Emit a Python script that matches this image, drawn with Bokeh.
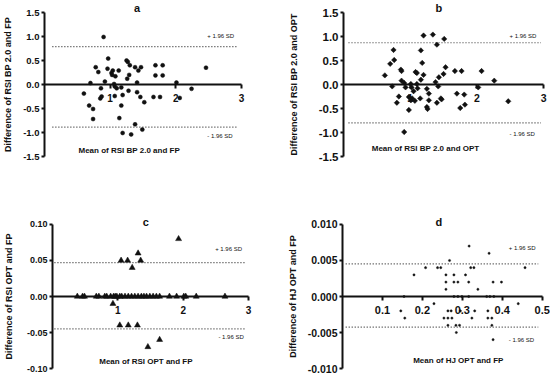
import math
from bokeh.plotting import figure
from bokeh.layouts import row, column
from bokeh.models import FixedTicker, Label, Range1d, PrintfTickFormatter
from bokeh.embed import file_html
from bokeh.resources import INLINE

# ---------------- data ----------------
a_mean = [0.90, 0.97, 0.78, 0.82, 0.96, 1.02, 1.04, 1.03, 1.13, 1.08, 1.25, 1.27, 1.30, 1.38,
          1.47, 1.43, 1.29, 1.26, 1.69, 1.80, 1.69, 1.80, 2.46, 0.70, 0.92, 0.86, 1.06, 1.07,
          1.10, 1.17, 1.41, 0.60, 0.85, 0.87, 1.07, 1.19, 1.28, 1.41, 1.46, 1.52, 1.66, 1.76,
          2.01, 2.06, 2.24, 0.68, 0.74, 0.74, 1.17, 1.14, 1.38, 1.49, 1.19, 1.32]
a_diff = [0.99, 0.54, 0.36, 0.26, 0.33, 0.24, 0.29, 0.20, 0.29, 0.17, 0.50, 0.47, 0.40, 0.36,
          0.36, 0.29, 0.20, 0.12, 0.40, 0.40, 0.19, 0.19, 0.35, 0.03, 0.06, -0.08, 0.01, -0.04,
          -0.08, -0.06, 0.04, -0.19, -0.29, -0.25, -0.24, -0.22, -0.13, -0.16, -0.26, -0.37, -0.26, -0.26,
          0.04, -0.28, -0.09, -0.44, -0.51, -0.72, -0.44, -0.70, -0.83, -0.94, -1.01, -1.04]
a_upper, a_lower = 0.79, -0.89

b_mean = [1.20, 1.34, 1.51, 1.40, 0.75, 1.16, 0.70, 0.76, 1.18, 0.86, 0.87, 1.08, 1.10, 0.62,
          1.20, 1.16, 0.87, 0.91, 0.73, 0.93, 1.01, 1.02, 1.10, 1.11, 1.05, 1.25, 1.28, 1.38,
          1.43, 1.42, 1.50, 1.53, 1.67, 1.77, 2.07, 2.26, 2.02, 1.70, 1.81, 1.75, 1.82, 2.47,
          0.83, 0.80, 0.98, 1.01, 1.03, 1.07, 1.15, 0.98, 1.25, 1.26, 1.28, 1.40, 1.46, 1.47, 0.91]
b_diff = [1.02, 1.04, 0.95, 0.83, 0.72, 0.71, 0.43, 0.51, 0.45, 0.31, 0.28, 0.26, 0.24, 0.19,
          0.20, 0.10, 0.08, 0.03, -0.04, -0.06, 0.01, -0.06, 0.01, -0.08, -0.14, -0.09, -0.19, 0.05,
          0.15, -0.04, 0.22, 0.36, 0.28, 0.28, 0.28, 0.08, -0.06, -0.19, -0.21, -0.49, -0.42, -0.35,
          -0.25, -0.38, -0.26, -0.33, -0.29, -0.34, -0.29, -0.53, -0.47, -0.51, -0.33, -0.38, -0.29, -0.31, -0.99]
b_upper, b_lower = 0.87, -0.80

c_mean = [0.38, 0.46, 0.49, 0.67, 0.71, 0.80, 0.83, 0.89, 0.935, 0.96, 0.985, 1.03, 1.06, 1.11,
          1.16, 1.21, 1.26, 1.31, 1.36, 1.40, 1.44, 1.49, 1.54, 1.59, 1.64, 1.79, 1.90, 2.01,
          2.04, 2.20, 2.64,
          1.93, 1.31, 1.05, 1.15, 1.35, 1.22, 0.925, 1.03, 1.16, 1.30, 1.46, 1.64]
c_diff = [0.0] * 31 + [0.08, 0.06, 0.05, 0.05, 0.05, 0.04, -0.01, -0.04, -0.04, -0.04, -0.07, -0.06]
c_upper, c_lower = 0.047, -0.045

d_mean = [0.317, 0.367, 0.268, 0.208, 0.238, 0.246, 0.321, 0.329, 0.457, 0.179, 0.259, 0.279,
          0.308, 0.259, 0.279, 0.289, 0.316, 0.377, 0.398, 0.259, 0.339, 0.154, 0.279, 0.289,
          0.299, 0.316, 0.361, 0.369, 0.379, 0.229, 0.440, 0.146, 0.264, 0.272, 0.295, 0.331,
          0.364, 0.156, 0.254, 0.264, 0.274, 0.324, 0.364, 0.374, 0.264, 0.284, 0.293, 0.374,
          0.285, 0.377]
d_diff = [0.007, 0.006, 0.005, 0.004, 0.004, 0.004, 0.004, 0.004, 0.004, 0.003, 0.003, 0.003,
          0.003, 0.002, 0.002, 0.002, 0.002, 0.002, 0.002, 0.001, 0.001, 0.0, 0.0, 0.0,
          0.0, 0.0, 0.0, 0.0, 0.0, -0.001, -0.001, -0.002, -0.002, -0.002, -0.002, -0.002,
          -0.002, -0.003, -0.003, -0.003, -0.003, -0.003, -0.003, -0.003, -0.004, -0.004, -0.004, -0.004,
          -0.005, -0.006]
d_upper, d_lower = 0.00454, -0.00426

ab_yticks = [-1.5, -1.0, -0.5, 0.0, 0.5, 1.0, 1.5]
ab_ylabels = ["-1.5", "-1.0", "-0.5", "0.0", "0.5", "1.0", "1.5"]
c_yticks = [-0.10, -0.05, 0.0, 0.05, 0.10]
c_ylabels = ["-0.10", "-0.05", "0.00", "0.05", "0.10"]
d_yticks = [-0.010, -0.005, 0.0, 0.005, 0.010]
d_ylabels = ["-0.010", "-0.005", "0.000", "0.005", "0.010"]
abc_xticks = [1, 2, 3]
d_xticks = [0.1, 0.2, 0.3, 0.4, 0.5]

FONT = "Liberation Sans"
INK = "#111111"


def panel(xs, ys, upper, lower, marker, msize, xticks, yticks, ylabels, yfmt, ytitle, xtitle,
          letter, height, b_left, b_top, b_bottom, x_end, y_half, ytick_fs, xtick_fs,
          ylab_standoff, title_pos, xlab_pos, sd_x, sd_up_y, sd_lo_y, line_span, angle=0.0):
    p = figure(width=275, height=height, x_range=Range1d(0, x_end),
               y_range=Range1d(-y_half, y_half), output_backend="svg",
               toolbar_location=None, min_border_left=b_left, min_border_right=0,
               min_border_top=b_top, min_border_bottom=b_bottom)
    p.outline_line_color = None
    p.xgrid.visible = False
    p.ygrid.visible = False
    p.background_fill_color = "white"

    ya = p.yaxis[0]
    ya.ticker = FixedTicker(ticks=yticks)
    ya.formatter = PrintfTickFormatter(format=yfmt)
    ya.major_label_overrides = dict(zip(yticks, ylabels))
    ya.bounds = (yticks[0], yticks[-1])
    ya.axis_line_width = 2
    ya.axis_line_color = INK
    ya.major_tick_line_width = 2
    ya.major_tick_line_color = INK
    ya.major_tick_in = 0
    ya.major_tick_out = 3
    ya.minor_tick_in = 0
    ya.minor_tick_out = 0
    ya.major_label_standoff = 2
    ya.major_label_text_font = FONT
    ya.major_label_text_font_style = "bold"
    ya.major_label_text_font_size = ytick_fs
    ya.major_label_text_color = INK
    ya.axis_label = ytitle
    ya.axis_label_text_font = FONT
    ya.axis_label_text_font_style = "bold"
    ya.axis_label_text_font_size = "9px"
    ya.axis_label_text_color = INK
    ya.axis_label_standoff = ylab_standoff

    xa = p.xaxis[0]
    xa.fixed_location = 0
    xa.ticker = FixedTicker(ticks=xticks)
    xa.bounds = (0, xticks[-1])
    xa.axis_line_width = 2
    xa.axis_line_color = INK
    xa.major_tick_line_width = 2
    xa.major_tick_line_color = INK
    xa.major_tick_in = 0
    xa.major_tick_out = 4
    xa.minor_tick_in = 0
    xa.minor_tick_out = 0
    xa.major_label_standoff = 5
    xa.major_label_text_font = FONT
    xa.major_label_text_font_style = "bold"
    xa.major_label_text_font_size = xtick_fs
    xa.major_label_text_color = INK

    x0 = line_span[0] * xticks[-1]
    x1 = line_span[1] * xticks[-1]
    p.segment(x0=[x0, x0], x1=[x1, x1], y0=[upper, lower], y1=[upper, lower],
              line_color="#333333", line_width=1.2, line_dash="1 2")

    p.scatter(xs, ys, marker=marker, size=msize, angle=angle, fill_color=INK, line_color=INK,
              line_width=0.5)

    p.add_layout(Label(x=title_pos[0], y=title_pos[1], text=letter, text_font=FONT,
                       text_font_style="bold", text_font_size="11px", text_color=INK,
                       text_align="center", text_baseline="middle"))
    p.add_layout(Label(x=xlab_pos[0], y=xlab_pos[1], text=xtitle, text_font=FONT,
                       text_font_style="bold", text_font_size="8px", text_color=INK,
                       text_align="center", text_baseline="middle"))
    p.add_layout(Label(x=sd_x[0], y=sd_up_y, text="+ 1.96 SD", text_font=FONT,
                       text_font_size="6px", text_color=INK,
                       text_align="left", text_baseline="middle"))
    p.add_layout(Label(x=sd_x[1], y=sd_lo_y, text="- 1.96 SD", text_font=FONT,
                       text_font_size="6px", text_color=INK,
                       text_align="left", text_baseline="middle"))
    return p


pa = panel(a_mean, a_diff, a_upper, a_lower, "circle", 4, abc_xticks, ab_yticks, ab_ylabels,
           "%.1f", "Difference of RSI BP 2.0 and FP", "Mean of RSI BP 2.0 and FP", "a",
           187, 41, 0, 19, 234 / 66.5, 1.75, "9.5px", "10px", 7,
           (1.41, 1.60), (1.29, -1.375), (2.48, 2.48), 1.02, -1.08, (0.04, 0.983))

pb = panel(b_mean, b_diff, b_upper, b_lower, "square", 3.8, abc_xticks, ab_yticks, ab_ylabels,
           "%.1f", "Difference of RSI BP 2.0 and OPT", "Mean of RSI BP 2.0 and OPT", "b",
           187, 68, 0, 19, 207 / 66.7, 1.75, "11.5px", "10.5px", 17,
           (1.43, 1.60), (1.23, -1.34), (2.49, 2.49), 1.02, -1.03, (0.025, 0.987),
           angle=math.pi / 4)

pc = panel(c_mean, c_diff, c_upper, c_lower, "triangle", 6, abc_xticks, c_yticks, c_ylabels,
           "%.2f", "Difference of RSI OPT and FP", "Mean of RSI OPT and FP", "c",
           188, 48, 30, 0, 227 / 66.5, 0.1097, "9px", "10px", 10,
           (1.43, 0.104), (1.43, -0.090), (2.49, 2.54), 0.0657, -0.0556, (0.01, 0.987))

pd = panel(d_mean, d_diff, d_upper, d_lower, "circle", 2.2, d_xticks, d_yticks, d_ylabels,
           "%.3f", "Difference of HJ OPT and FP", "Mean of HJ OPT and FP", "d",
           188, 67, 30, 0, 208 / 399.4, 0.01097, "10.5px", "11px", 7,
           (0.2415, 0.0104), (0.29, -0.00893), (0.4165, 0.4165), 0.00667, -0.00607, (0.016, 0.98))

layout = column(row(pa, pb), row(pc, pd))

open("out.html", "w").write(file_html(layout, INLINE))
